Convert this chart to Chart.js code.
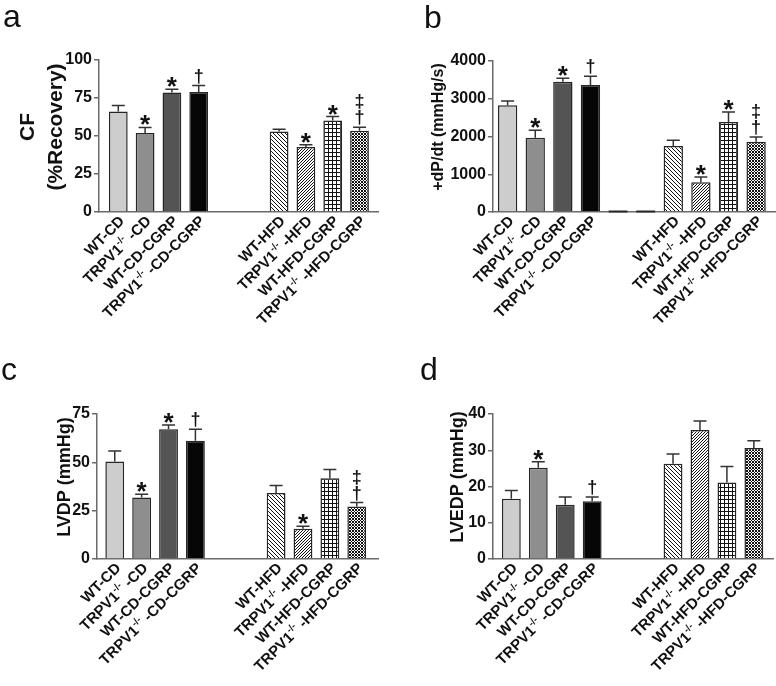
<!DOCTYPE html>
<html><head><meta charset="utf-8">
<script src="https://cdn.jsdelivr.net/npm/chart.js@4.4.1/dist/chart.umd.min.js"></script>
<style>
html,body{margin:0;padding:0;background:#fff;}
body{width:776px;height:686px;position:relative;overflow:hidden;}
canvas{position:absolute;}
</style></head>
<body>
<canvas id="ca" width="388" height="343" style="left:0;top:0"></canvas>
<canvas id="cb" width="388" height="343" style="left:388px;top:0"></canvas>
<canvas id="cc" width="388" height="343" style="left:0;top:343px"></canvas>
<canvas id="cd" width="388" height="343" style="left:388px;top:343px"></canvas>
<script>
// ---------- DATA ----------
const categories = ['WT-CD','TRPV1-/- -CD','WT-CD-CGRP','TRPV1-/- -CD-CGRP','','','WT-HFD','TRPV1-/- -HFD','WT-HFD-CGRP','TRPV1-/- -HFD-CGRP'];

const cfMean = [66.1, 51.9, 78.6, 79.0, null, null, 53.0, 42.7, 60.2, 53.4];
const cfSem  = [3.9, 3.7, 2.1, 4.2, null, null, 1.5, 1.5, 2.6, 2.4];
const cfSig  = ['', '*', '*', '†', '', '', '', '*', '*', '‡†'];
const cfTicks = [0, 25, 50, 75, 100];

const dpdtMean = [2826, 1969, 3452, 3364, 0, 0, 1748, 786, 2384, 1863];
const dpdtSem  = [114, 194, 89, 230, 0, 0, 150, 141, 265, 124];
const dpdtSig  = ['', '*', '*', '†', '', '', '', '*', '*', '‡†'];
const dpdtTicks = [0, 1000, 2000, 3000, 4000];

const lvdpMean = [50.4, 31.8, 67.1, 61.2, null, null, 34.1, 15.7, 41.8, 27.2];
const lvdpSem  = [5.5, 1.7, 2.2, 5.9, null, null, 3.9, 1.2, 4.5, 2.0];
const lvdpSig  = ['', '*', '*', '†', '', '', '', '*', '', '‡†'];
const lvdpTicks = [0, 25, 50, 75];

const lvedpMean = [16.6, 25.2, 15.0, 15.9, null, null, 26.3, 35.6, 21.1, 30.6];
const lvedpSem  = [2.3, 1.6, 2.1, 1.2, null, null, 2.7, 2.5, 4.4, 2.0];
const lvedpSig  = ['', '*', '', '†', '', '', '', '', '', ''];
const lvedpTicks = [0, 10, 20, 30, 40];

// ---------- STYLE ----------
const FONT = '"Liberation Sans", Arial, sans-serif';
const AXIS = '#6a6a6a';
const EDGE = '#262626';

function makePattern(ctx, n, fn){
  const c = document.createElement('canvas'); c.width = n; c.height = n;
  const g = c.getContext('2d');
  g.fillStyle = '#ffffff'; g.fillRect(0,0,n,n);
  g.fillStyle = '#111111';
  for (let x=0;x<n;x++) for (let y=0;y<n;y++) if (fn(x,y,n)) g.fillRect(x,y,1,1);
  return ctx.createPattern(c,'repeat');
}
function fills(ctx){
  const back = makePattern(ctx,4,(x,y,n)=>((x-y)%n+n)%n===0);
  const fwd  = makePattern(ctx,3,(x,y,n)=>(x+y)%n===0);
  const grid = makePattern(ctx,4,(x,y,n)=>x%n===0||y%n===0);
  const cross= makePattern(ctx,3,(x,y,n)=>(x+y)%n===0||((x-y)%n+n)%n===0);
  return ['#cdcdcd','#8e8e8e','#545454','#060606',null,null,back,fwd,grid,cross];
}

function drawXLabel(ctx, text, x, y){
  ctx.save();
  ctx.translate(x,y);
  ctx.rotate(-Math.PI/4);
  const mainF = 'bold 15px '+FONT, supF = 'bold 10px '+FONT;
  const parts = text.split('-/-');
  ctx.font = mainF;
  const w0 = ctx.measureText(parts[0]).width;
  const w2 = parts.length>1 ? ctx.measureText(parts[1]).width : 0;
  ctx.font = supF;
  const w1 = parts.length>1 ? ctx.measureText('-/-').width : 0;
  let cx = -(w0+w1+w2);
  ctx.textAlign='left'; ctx.textBaseline='middle'; ctx.fillStyle='#111';
  ctx.font = mainF; ctx.fillText(parts[0], cx, 0); cx += w0;
  if (parts.length>1){
    ctx.font = supF; ctx.fillText('-/-', cx, -5); cx += w1;
    ctx.font = mainF; ctx.fillText(parts[1], cx, 0);
  }
  ctx.restore();
}

const panelPlugin = {
  id:'panel',
  afterDatasetsDraw(chart){
    const o = chart.options.plugins.panel;
    const ctx = chart.ctx, ys = chart.scales.y;
    const meta = chart.getDatasetMeta(0);
    const y0 = ys.getPixelForValue(0);
    ctx.save();
    meta.data.forEach((bar,k)=>{
      const raw = chart.data.datasets[0].data[k];
      const i = raw.x, v = raw.y, e = o.sem[i], s = o.sig[i];
      const cx = bar.x;
      if (v === 0){
        ctx.strokeStyle = EDGE; ctx.lineWidth = 2;
        ctx.beginPath(); ctx.moveTo(cx-9.4, y0-0.5); ctx.lineTo(cx+9.4, y0-0.5); ctx.stroke();
        return;
      }
      const top = ys.getPixelForValue(v);
      const et = ys.getPixelForValue(v+e);
      ctx.strokeStyle = '#333'; ctx.lineWidth = 1.5;
      ctx.beginPath(); ctx.moveTo(cx, top); ctx.lineTo(cx, et);
      ctx.moveTo(cx-6.5, et); ctx.lineTo(cx+6.5, et); ctx.stroke();
      let bottom = et - 2;
      ctx.fillStyle = '#111'; ctx.textAlign='center'; ctx.textBaseline='alphabetic';
      for (let c = s.length-1; c>=0; c--){
        const ch = s[c];
        ctx.font = ch==='*' ? 'bold 26px '+FONT : 'bold 18px '+FONT;
        const m = ctx.measureText(ch);
        const asc = m.actualBoundingBoxAscent, desc = m.actualBoundingBoxDescent;
        ctx.fillText(ch, cx, bottom - desc);
        bottom = bottom - desc - asc - 1;
      }
    });
    ctx.restore();
  },
  afterDraw(chart){
    const o = chart.options.plugins.panel;
    const ctx = chart.ctx, xs = chart.scales.x;
    const yb = chart.chartArea.bottom;
    ctx.save();
    categories.forEach((t,i)=>{
      if (!t) return;
      drawXLabel(ctx, t, xs.getPixelForValue(i)+4, yb+7);
    });
    ctx.fillStyle='#111'; ctx.textAlign='center'; ctx.textBaseline='middle';
    o.title.forEach(tl=>{
      ctx.save(); ctx.translate(tl.x, tl.y); ctx.rotate(-Math.PI/2);
      ctx.font = 'bold '+tl.size+'px '+FONT; ctx.fillText(tl.text,0,0); ctx.restore();
    });
    ctx.font = '32px '+FONT; ctx.textAlign='left'; ctx.textBaseline='alphabetic';
    ctx.fillText(o.letter.t, o.letter.x, o.letter.y);
    ctx.restore();
  }
};

function makeChart(id, means, sem, sig, ticks, box, xr, title, letter){
  const cv = document.getElementById(id);
  const ctx = cv.getContext('2d');
  const f = fills(ctx);
  const pts = [], bg = [];
  means.forEach((v,i)=>{ if (v!==null){ pts.push({x:i, y:v}); bg.push(f[i] || '#fff'); } });
  return new Chart(ctx, {
    type:'bar',
    data:{ datasets:[{ data:pts, backgroundColor:bg, borderColor:EDGE, borderWidth:1.5,
      barPercentage:0.7, categoryPercentage:1.0 }] },
    options:{
      responsive:false, animation:false, events:[],
      layout:{ padding:{ top:box.top, right:box.right, left:0, bottom:0 } },
      plugins:{ legend:{display:false}, tooltip:{enabled:false},
        panel:{ sem, sig, title, letter } },
      scales:{
        x:{ type:'linear', offset:false, min:xr[0], max:xr[1],
          ticks:{display:false}, grid:{display:false},
          border:{display:true, color:AXIS, width:1.5},
          afterFit(s){ s.height = 343 - box.bottom; } },
        y:{ min:ticks[0], max:ticks[ticks.length-1],
          afterBuildTicks(s){ s.ticks = ticks.map(v=>({value:v})); },
          ticks:{ color:'#111', padding:2, font:{family:FONT, size:16, weight:'bold'},
            callback:(v)=>String(v) },
          grid:{ display:true, drawOnChartArea:false, drawTicks:true, tickLength:5, color:AXIS, lineWidth:1.5 },
          border:{ display:true, color:AXIS, width:1.5 },
          afterFit(s){ s.width = box.left; } }
      }
    },
    plugins:[panelPlugin]
  });
}

makeChart('ca', cfMean, cfSem, cfSig, cfTicks,
  {left:99, top:60, right:10, bottom:212}, [-0.72, 9.69],
  [{text:'CF', x:28, y:127, size:21}, {text:'(%Recovery)', x:56, y:127, size:21}],
  {t:'a', x:3, y:27});
makeChart('cb', dpdtMean, dpdtSem, dpdtSig, dpdtTicks,
  {left:105, top:61, right:0, bottom:212}, [-0.53, 9.72],
  [{text:'+dP/dt (mmHg/s)', x:51, y:127, size:16}],
  {t:'b', x:36, y:28});
makeChart('cc', lvdpMean, lvdpSem, lvdpSig, lvdpTicks,
  {left:97, top:71, right:10, bottom:216}, [-0.66, 9.79],
  [{text:'LVDP (mmHg)', x:65, y:134, size:18}],
  {t:'c', x:1, y:37});
makeChart('cd', lvedpMean, lvedpSem, lvedpSig, lvedpTicks,
  {left:105, top:71, right:3, bottom:216}, [-0.68, 9.71],
  [{text:'LVEDP (mmHg)', x:70, y:134, size:18}],
  {t:'d', x:32, y:37});
</script>
</body></html>
